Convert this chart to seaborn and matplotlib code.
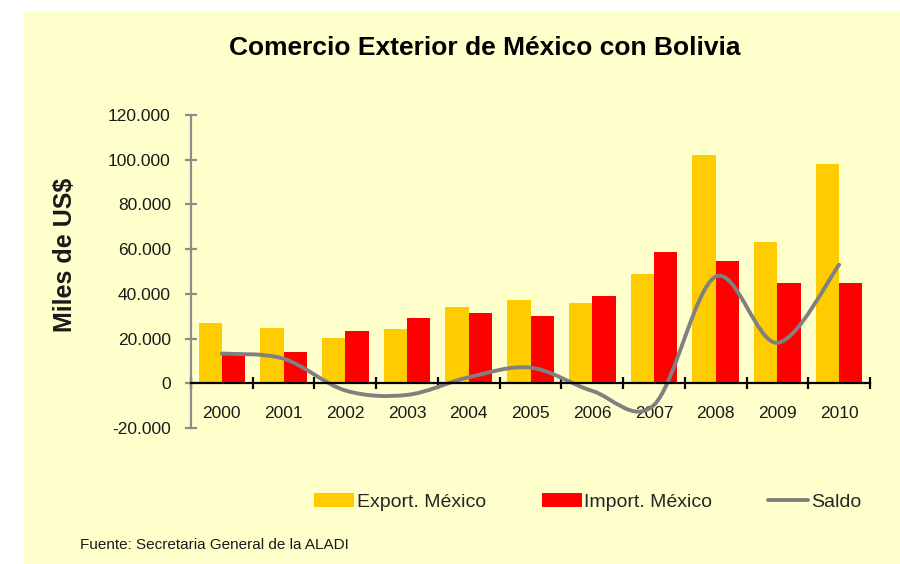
import pandas as pd
import numpy as np
import matplotlib
matplotlib.use("Agg")
import matplotlib.pyplot as plt
from matplotlib.patches import Rectangle, Patch, PathPatch
from matplotlib.path import Path
from matplotlib.lines import Line2D
from matplotlib.ticker import FuncFormatter, FixedLocator
import seaborn as sns

# Data (miles de US$)
years = ["2000", "2001", "2002", "2003", "2004", "2005",
         "2006", "2007", "2008", "2009", "2010"]
export_mx = [26800, 24900, 20400, 24200, 34000, 37100,
             35800, 48800, 102300, 63000, 97900]
import_mx = [13500, 13900, 23600, 29400, 31300, 30100,
             39200, 58500, 54600, 44900, 44900]
saldo = [13300, 11000, -3200, -5200, 2700, 7000,
         -3400, -9700, 47700, 18100, 53000]
y_ticks = [-20000, 0, 20000, 40000, 60000, 80000, 100000, 120000]

EXPORT_COLOR = "#FFCC00"
IMPORT_COLOR = "#FF0000"
SALDO_COLOR = "#808080"
BG = "#FFFFCC"

df = pd.DataFrame({
    "year": years * 2,
    "value": export_mx + import_mx,
    "serie": ["Export. México"] * len(years) + ["Import. México"] * len(years),
})

sns.set_theme(style="white")
plt.rcParams["font.family"] = ["Liberation Sans", "DejaVu Sans"]

fig = plt.figure(figsize=(9, 5.64), dpi=100, facecolor="white")
fig.patches.append(Rectangle((24 / 900, 0), 1 - 24 / 900, 1 - 12 / 564,
                             transform=fig.transFigure, facecolor=BG,
                             edgecolor="none", zorder=-10))

ax = fig.add_axes([191 / 900, 1 - 428 / 564, (870 - 191) / 900, (428 - 115) / 564])
ax.set_facecolor("none")

sns.barplot(data=df, x="year", y="value", hue="serie",
            palette=[EXPORT_COLOR, IMPORT_COLOR], width=0.755, gap=0,
            saturation=1, dodge=True, legend=False, ax=ax, zorder=2,
            linewidth=0, edgecolor="none")

# smoothed saldo line (Catmull-Rom style bezier through the data points)
xs = np.arange(len(years), dtype=float)
ys = np.array(saldo, dtype=float)
verts = [(xs[0], ys[0])]
codes = [Path.MOVETO]
n = len(xs)
for i in range(n - 1):
    p0 = (xs[max(i - 1, 0)], ys[max(i - 1, 0)])
    p1 = (xs[i], ys[i])
    p2 = (xs[i + 1], ys[i + 1])
    p3 = (xs[min(i + 2, n - 1)], ys[min(i + 2, n - 1)])
    c1 = (p1[0] + (p2[0] - p0[0]) / 6, p1[1] + (p2[1] - p0[1]) / 6)
    c2 = (p2[0] - (p3[0] - p1[0]) / 6, p2[1] - (p3[1] - p1[1]) / 6)
    verts += [c1, c2, p2]
    codes += [Path.CURVE4] * 3
ax.add_patch(PathPatch(Path(verts, codes), facecolor="none",
                       edgecolor=SALDO_COLOR, lw=2.8, zorder=4,
                       capstyle="round", joinstyle="round"))

ax.set_xlim(-0.5, len(years) - 0.5)
ax.set_ylim(-20000, 120000)
ax.set_xlabel("")
ax.set_ylabel("")

# axes styling
for s in ["top", "right"]:
    ax.spines[s].set_visible(False)
ax.spines["left"].set_color("#8C8C8C")
ax.spines["left"].set_linewidth(1.6)
ax.spines["bottom"].set_position(("data", 0))
ax.spines["bottom"].set_color("black")
ax.spines["bottom"].set_linewidth(1.6)
ax.spines["bottom"].set_zorder(5)

ax.yaxis.set_major_locator(FixedLocator(y_ticks))
ax.yaxis.set_major_formatter(FuncFormatter(lambda v, p: f"{int(v):,}".replace(",", ".")))
ax.tick_params(axis="y", which="major", direction="inout", length=9, width=1.6,
               color="#8C8C8C", labelsize=12.5, labelcolor="#1a1a1a", pad=10, left=True)

ax.xaxis.set_major_locator(FixedLocator(np.arange(-0.5, len(years), 1.0)))
ax.xaxis.set_minor_locator(FixedLocator(xs))
ax.set_xticklabels([], minor=False)
ax.set_xticklabels(years, minor=True)
ax.tick_params(axis="x", which="major", direction="inout", length=9, width=1.6,
               color="black", bottom=True, labelbottom=False)
ax.tick_params(axis="x", which="minor", length=0, pad=16,
               labelsize=12.5, labelcolor="#1a1a1a", bottom=True)
ax.grid(False)

# texts
fig.text(485 / 900, 1 - 48 / 564, "Comercio Exterior de México con Bolivia",
         ha="center", va="center", fontsize=19, fontweight="bold", color="black")
fig.text(65 / 900, 1 - 255 / 564, "Miles de US$", rotation=90,
         ha="center", va="center", fontsize=18, fontweight="bold", color="#1a1a1a")
fig.text(80 / 900, 1 - 545 / 564, "Fuente: Secretaria General de la ALADI",
         ha="left", va="center", fontsize=11, color="#1a1a1a")

handles = [Patch(facecolor=EXPORT_COLOR, edgecolor="none"),
           Patch(facecolor=IMPORT_COLOR, edgecolor="none"),
           Line2D([0], [0], color=SALDO_COLOR, lw=2.8)]
fig.legend(handles, ["Export. México", "Import. México", "Saldo"],
           loc="center left", bbox_to_anchor=(314 / 900, 1 - 502 / 564),
           ncol=3, frameon=False, fontsize=14, handlelength=2.06,
           handleheight=0.7, handletextpad=0.15, columnspacing=2.85,
           borderpad=0, borderaxespad=0)

fig.savefig("out.png", dpi=100, facecolor="white")
